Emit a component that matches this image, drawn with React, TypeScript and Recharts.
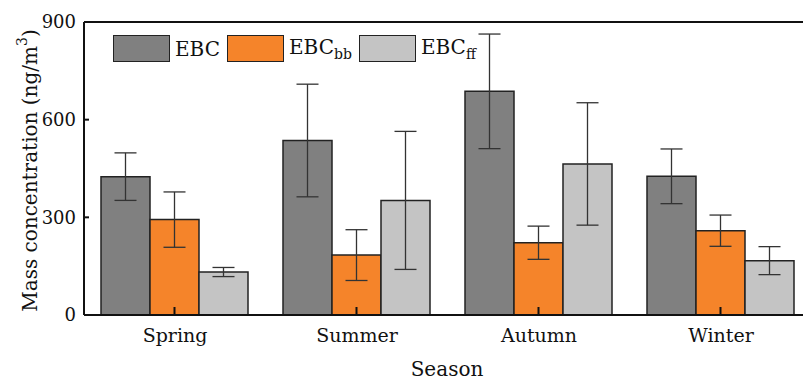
import React from "react"
import { BarChart, Bar, XAxis, YAxis, ErrorBar, ReferenceLine, Legend, LabelList } from "recharts"

const seasons = ["Spring", "Summer", "Autumn", "Winter"]
const ebc = [425, 536, 687, 426]
const ebcErr = [73, 173, 176, 84]
const ebcBb = [293, 184, 222, 259]
const ebcBbErr = [85, 78, 51, 48]
const ebcFf = [132, 352, 464, 167]
const ebcFfErr = [14, 212, 188, 43]
const yTicks = [0, 300, 600, 900]

const seriesNames = [
  { key: "ebc", base: "EBC", sub: "" },
  { key: "ebcBb", base: "EBC", sub: "bb" },
  { key: "ebcFf", base: "EBC", sub: "ff" },
]

const colors: Record<string, string> = {
  ebc: "#808080",
  ebcBb: "#f5842a",
  ebcFf: "#c4c4c4",
}

const data = seasons.map((s, i) => ({
  season: s,
  ebc: ebc[i],
  ebcErr: ebcErr[i],
  ebcBb: ebcBb[i],
  ebcBbErr: ebcBbErr[i],
  ebcFf: ebcFf[i],
  ebcFfErr: ebcFfErr[i],
}))

const FONT = "'DejaVu Serif', serif"
const TICK_MARGIN = 10

function SeasonTick(props: any) {
  const { x, y, payload } = props
  const axisY = y - TICK_MARGIN
  return (
    <text x={x} y={axisY + 27} textAnchor="middle" fontFamily={FONT} fontSize={19} fill="#111">
      {payload.value}
    </text>
  )
}

// the middle bar sits on the category centre: its label layer draws the inward x tick on top of the fill
const innerTick = (p: any) => {
  const vb = p.viewBox || {}
  const x = Number(vb.x ?? p.x)
  const y = Number(vb.y ?? p.y)
  const w = Number(vb.width ?? p.width)
  const h = Number(vb.height ?? p.height)
  if (![x, y, w, h].every(Number.isFinite)) return null
  const cx = x + w / 2
  const base = Math.max(y, y + h)
  return <path d={`M${cx},${base}V${base - 8}`} stroke="#111" strokeWidth={2} fill="none" />
}

function LegendContent() {
  return (
    <div style={{ display: "flex", alignItems: "center", fontFamily: FONT, fontSize: 20, color: "#111" }}>
      {seriesNames.map((s) => (
        <div key={s.key} style={{ display: "flex", alignItems: "center", marginRight: 7 }}>
          <div
            style={{
              width: 55,
              height: 25,
              background: colors[s.key],
              border: "1.5px solid #222",
              marginRight: 5,
            }}
          />
          <span>
            {s.base}
            {s.sub && <sub style={{ fontSize: 14, verticalAlign: -5 }}>{s.sub}</sub>}
          </span>
        </div>
      ))}
    </div>
  )
}

export default function App() {
  return (
    <div style={{ position: "absolute", left: 0, top: 0, width: 803, height: 381, overflow: "hidden", background: "#fff" }}>
      <BarChart
        width={820}
        height={381}
        data={data}
        margin={{ top: 22, right: 8, left: 0, bottom: 0 }}
        barCategoryGap={17}
        barGap={0}
      >
        <YAxis
          width={84}
          domain={[0, 900]}
          ticks={yTicks}
          axisLine={{ stroke: "#111", strokeWidth: 2 }}
          tickLine={{ stroke: "#111", strokeWidth: 2 }}
          tickSize={-5}
          tickMargin={13}
          tick={{ fontFamily: FONT, fontSize: 18, fill: "#111" }}
          label={{
            content: (p: any) => {
              const vb = p.viewBox
              const cx = 30
              const cy = vb.y + vb.height / 2 + 2
              return (
                <text
                  x={cx}
                  y={cy}
                  transform={`rotate(-90 ${cx} ${cy})`}
                  textAnchor="middle"
                  dominantBaseline="central"
                  fontFamily={FONT}
                  fontSize={20}
                  fill="#111"
                >
                  Mass concentration (ng/m<tspan fontSize={14} dy={-8}>3</tspan>
                  <tspan dy={8}>)</tspan>
                </text>
              )
            },
          }}
        />
        <ReferenceLine y={900} stroke="#111" strokeWidth={2} />
        <Legend
          layout="vertical"
          align="center"
          verticalAlign="middle"
          wrapperStyle={{ position: "absolute", top: 35, left: 113, width: "auto", height: "auto" }}
          content={() => <LegendContent />}
        />
        {seriesNames.map((s) => (
          <Bar
            key={s.key}
            dataKey={s.key}
            fill={colors[s.key]}
            stroke="#222"
            strokeWidth={1.5}
            isAnimationActive={false}
          >
            <ErrorBar dataKey={`${s.key}Err`} width={11} stroke="#333" strokeWidth={1.3} />
            {s.key === "ebcBb" && <LabelList dataKey={s.key} content={innerTick} />}
          </Bar>
        ))}
        <XAxis
          dataKey="season"
          height={66}
          axisLine={{ stroke: "#111", strokeWidth: 2 }}
          tickLine={false}
          tickSize={0}
          tickMargin={TICK_MARGIN}
          tick={<SeasonTick />}
          label={{
            content: (p: any) => {
              const vb = p.viewBox
              return (
                <text x={vb.x + vb.width / 2 - 1} y={vb.y + 61} textAnchor="middle" fontFamily={FONT} fontSize={20} fill="#111">
                  Season
                </text>
              )
            },
          }}
        />
      </BarChart>
    </div>
  )
}
